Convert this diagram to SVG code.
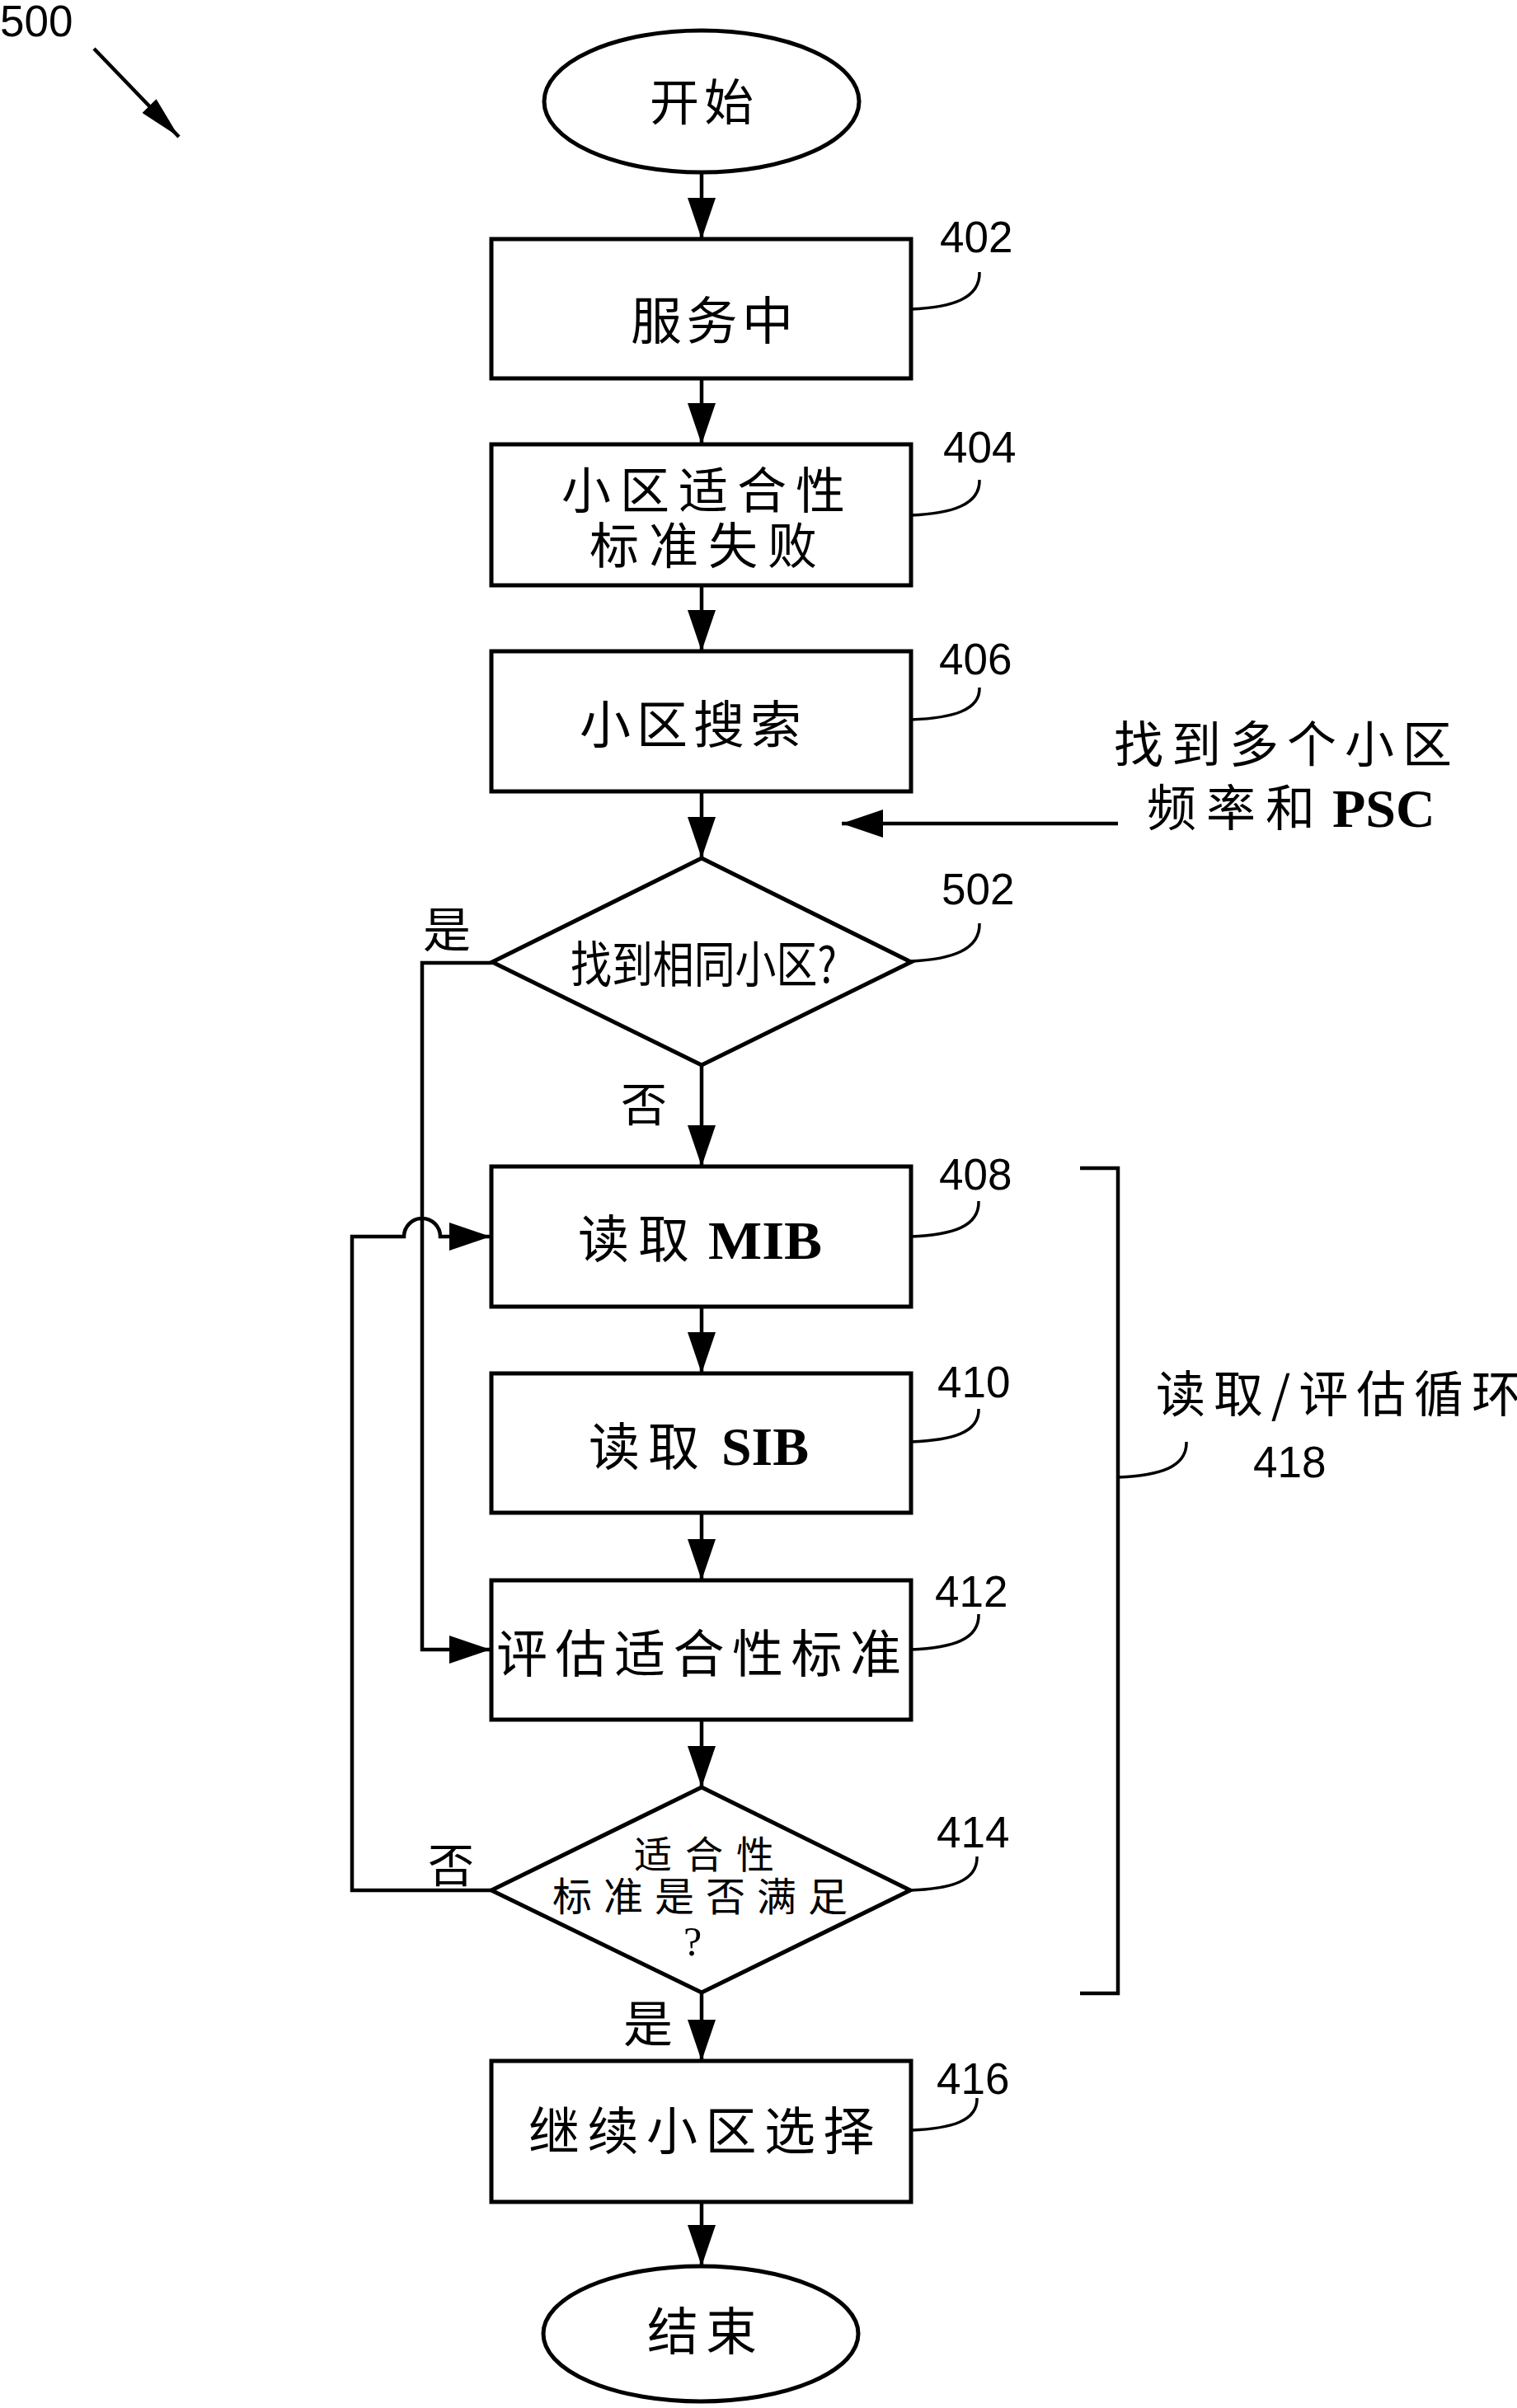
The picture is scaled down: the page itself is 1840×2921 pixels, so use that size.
<svg xmlns="http://www.w3.org/2000/svg" width="1840" height="2921" viewBox="0 0 1840 2921">
<style>
.cjk{font-family:"Noto Sans CJK SC","Noto Sans CJK TC",sans-serif;fill:#000}
.num{font-family:"Liberation Sans",Arial,sans-serif;font-size:53px;fill:#000}
.lat{font-family:"Liberation Serif","Times New Roman",serif;font-weight:bold;fill:#000}
.shape{fill:#fff;stroke:#000;stroke-width:5}
.conn{fill:none;stroke:#000;stroke-width:4.5}
.lead{fill:none;stroke:#000;stroke-width:3.5}
</style>
<defs>
<marker id="ah" markerUnits="userSpaceOnUse" viewBox="0 0 50 34" markerWidth="50" markerHeight="34" refX="50" refY="17" orient="auto"><path d="M0,0 L50,17 L0,34 z" fill="#000"/></marker>
<marker id="ahn" markerUnits="userSpaceOnUse" viewBox="0 0 52 24" markerWidth="52" markerHeight="24" refX="52" refY="12" orient="auto"><path d="M0,0 L52,12 L0,24 z" fill="#000"/></marker>
</defs>
<rect width="1840" height="2921" fill="#fff"/>

<g id="label-500">
<text class="num" x="0" y="44">500</text>
<line class="conn" x1="114" y1="59" x2="217" y2="166" marker-end="url(#ahn)"/>
</g>

<g id="connectors">
<line class="conn" x1="851" y1="209" x2="851" y2="290" marker-end="url(#ah)"/>
<line class="conn" x1="851" y1="459" x2="851" y2="539" marker-end="url(#ah)"/>
<line class="conn" x1="851" y1="710" x2="851" y2="790" marker-end="url(#ah)"/>
<line class="conn" x1="851" y1="960" x2="851" y2="1041" marker-end="url(#ah)"/>
<line class="conn" x1="851" y1="1292" x2="851" y2="1415" marker-end="url(#ah)"/>
<line class="conn" x1="851" y1="1585" x2="851" y2="1666" marker-end="url(#ah)"/>
<line class="conn" x1="851" y1="1835" x2="851" y2="1917" marker-end="url(#ah)"/>
<line class="conn" x1="851" y1="2086" x2="851" y2="2168" marker-end="url(#ah)"/>
<line class="conn" x1="851" y1="2417" x2="851" y2="2500" marker-end="url(#ah)"/>
<line class="conn" x1="851" y1="2671" x2="851" y2="2749" marker-end="url(#ah)"/>
<path class="conn" d="M597,1168 L512,1168 L512,2001 L595,2001" marker-end="url(#ah)"/>
<path class="conn" d="M596,2293 L427,2293 L427,1500 L490,1500 A22,22 0 0 1 534,1500 L595,1500" marker-end="url(#ah)"/>
<line class="conn" x1="1356" y1="999" x2="1021" y2="999" marker-end="url(#ah)"/>
<text class="cjk" x="513" y="1149" font-size="58">是</text>
<text class="cjk" x="753" y="1360" font-size="56">否</text>
<text class="cjk" x="519" y="2283" font-size="56">否</text>
<text class="cjk" x="756" y="2477" font-size="60">是</text>
</g>

<g id="start">
<ellipse class="shape" cx="851" cy="123" rx="191" ry="86"/>
<text class="cjk" x="788" y="146" font-size="60" letter-spacing="6">开始</text>
</g>

<g id="n402">
<rect class="shape" x="596" y="290" width="509" height="169"/>
<text class="cjk" x="765" y="412" font-size="62" letter-spacing="5.5">服务中</text>
<path class="lead" d="M1105,375 C1155,373 1189,362 1188,330"/>
<text class="num" x="1140" y="306">402</text>
</g>

<g id="n404">
<rect class="shape" x="596" y="539" width="509" height="171"/>
<text class="cjk" font-size="60"><tspan x="681" y="617" letter-spacing="11">小区适合性</tspan><tspan x="715" y="684" letter-spacing="12">标准失败</tspan></text>
<path class="lead" d="M1105,625 C1155,623 1189,612 1188,582"/>
<text class="num" x="1144" y="561">404</text>
</g>

<g id="n406">
<rect class="shape" x="596" y="790" width="509" height="170"/>
<text class="cjk" x="703" y="902" font-size="62" letter-spacing="7">小区搜索</text>
<path class="lead" d="M1105,873 C1155,871 1189,862 1188,834"/>
<text class="num" x="1139" y="818">406</text>
</g>

<g id="input-note">
<text class="cjk" font-size="60"><tspan x="1351" y="925" letter-spacing="10">找到多个小区</tspan><tspan x="1391" y="1002" letter-spacing="12">频率和</tspan><tspan class="lat" x="1616" y="1003" font-size="66">PSC</tspan></text>
</g>

<g id="n502">
<polygon class="shape" points="851,1041 1105,1167 851,1292 597,1167"/>
<text class="cjk" x="692" y="1192" font-size="60" textLength="323" lengthAdjust="spacingAndGlyphs">找到相同小区?</text>
<path class="lead" d="M1103,1166 C1155,1164 1189,1152 1188,1120"/>
<text class="num" x="1142" y="1097">502</text>
</g>

<g id="n408">
<rect class="shape" x="596" y="1415" width="509" height="170"/>
<text class="cjk" x="701" y="1526" font-size="62" letter-spacing="11">读取</text>
<text class="lat" x="859" y="1527" font-size="66" textLength="138" lengthAdjust="spacingAndGlyphs">MIB</text>
<path class="lead" d="M1105,1500 C1155,1498 1188,1488 1187,1457"/>
<text class="num" x="1139" y="1443">408</text>
</g>

<g id="n410">
<rect class="shape" x="596" y="1666" width="509" height="169"/>
<text class="cjk" x="714" y="1778" font-size="62" letter-spacing="10">读取</text>
<text class="lat" x="875" y="1777" font-size="66" textLength="106" lengthAdjust="spacingAndGlyphs">SIB</text>
<path class="lead" d="M1105,1749 C1155,1747 1188,1738 1187,1709"/>
<text class="num" x="1137" y="1695">410</text>
</g>

<g id="n412">
<rect class="shape" x="596" y="1917" width="509" height="169"/>
<text class="cjk" x="602" y="2029" font-size="62" letter-spacing="9.5">评估适合性标准</text>
<path class="lead" d="M1105,2001 C1155,1999 1188,1989 1187,1958"/>
<text class="num" x="1134" y="1949">412</text>
</g>

<g id="n414">
<polygon class="shape" points="851,2168 1104,2293 851,2417 596,2293"/>
<text class="cjk"><tspan x="769" y="2266" font-size="46" letter-spacing="16">适合性</tspan><tspan x="670" y="2318" font-size="48" letter-spacing="14">标准是否满足</tspan><tspan x="829" y="2372" font-size="50" style="font-family:'Liberation Serif',serif">?</tspan></text>
<path class="lead" d="M1104,2293 C1154,2291 1186,2282 1185,2252"/>
<text class="num" x="1136" y="2241">414</text>
</g>

<g id="n416">
<rect class="shape" x="596" y="2500" width="509" height="171"/>
<text class="cjk" x="641" y="2608" font-size="62" letter-spacing="9.5">继续小区选择</text>
<path class="lead" d="M1105,2584 C1154,2582 1186,2573 1185,2545"/>
<text class="num" x="1136" y="2540">416</text>
</g>

<g id="end">
<ellipse class="shape" cx="850" cy="2831" rx="191" ry="82"/>
<text class="cjk" x="785" y="2851" font-size="62" letter-spacing="9">结束</text>
</g>

<g id="loop-418">
<path class="conn" d="M1310,1417 L1356,1417 L1356,2418 L1310,2418"/>
<path class="lead" d="M1356,1792 C1406,1790 1440,1780 1439,1749"/>
<text class="cjk" x="1402" y="1713" font-size="60" textLength="443" lengthAdjust="spacing">读取/评估循环</text>
<text class="num" x="1520" y="1792">418</text>
</g>
</svg>
